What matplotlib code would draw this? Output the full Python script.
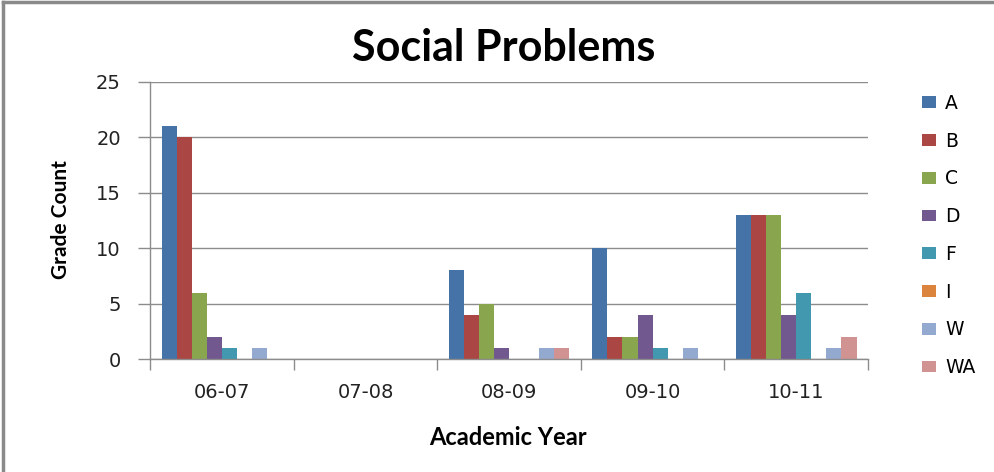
import matplotlib.pyplot as plt
from matplotlib.lines import Line2D
from matplotlib.patches import Patch
import numpy as np

years = ['06-07', '07-08', '08-09', '09-10', '10-11']
grades = ['A', 'B', 'C', 'D', 'F', 'I', 'W', 'WA']
counts = {
    'A':  [21, 0, 8, 10, 13],
    'B':  [20, 0, 4, 2, 13],
    'C':  [6, 0, 5, 2, 13],
    'D':  [2, 0, 1, 4, 4],
    'F':  [1, 0, 0, 1, 6],
    'I':  [0, 0, 0, 0, 0],
    'W':  [1, 0, 1, 1, 1],
    'WA': [0, 0, 1, 0, 2],
}
colors = ['#4572A7', '#AA4643', '#89A54E', '#71588F',
          '#4198AF', '#DB843D', '#93A9CF', '#D19392']

fig = plt.figure(figsize=(9.95, 4.72), dpi=100)
ax = fig.add_axes([0.1508, 0.2394, 0.7216, 0.5869])

x = np.arange(len(years))
bw = 0.84 / len(grades)
for i, (g, c) in enumerate(zip(grades, colors)):
    ax.bar(x + (i - (len(grades) - 1) / 2) * bw, counts[g], width=bw,
           color=c, edgecolor='none', zorder=2)

ax.set_xlim(-0.5, len(years) - 0.5)
ax.set_ylim(0, 25)
ax.set_yticks(range(0, 26, 5))
ax.yaxis.grid(True, color='#8c8c8c', linewidth=1.0, zorder=0)
ax.set_axisbelow(True)

ax.set_xticks(x)
ax.set_xticklabels(years)
ax.set_xticks(np.arange(-0.5, len(years), 1.0), minor=True)
ax.tick_params(axis='x', which='major', length=0, pad=17)
ax.tick_params(axis='x', which='minor', length=8, color='#8c8c8c', width=1)
ax.tick_params(axis='y', length=9, color='#8c8c8c', width=1, pad=12)
ax.tick_params(labelsize=14, labelcolor='#222222')

for side in ['top', 'right']:
    ax.spines[side].set_visible(False)
for side in ['left', 'bottom']:
    ax.spines[side].set_color('#8c8c8c')
    ax.spines[side].set_linewidth(1.0)
ax.spines['bottom'].set_zorder(3)

fig.text(0.506, 0.898, 'Social Problems', ha='center', va='center',
         fontsize=31, fontweight='bold', family='Lato')
fig.text(0.51, 0.074, 'Academic Year', ha='center', va='center',
         fontsize=17, fontweight='bold', family='Lato')
fig.text(0.061, 0.535, 'Grade Count', ha='center', va='center', rotation=90,
         fontsize=15, fontweight='bold', family='Lato')

handles = [Patch(facecolor=c, edgecolor='none') for c in colors]
fig.legend(handles, grades, loc='upper left', bbox_to_anchor=(0.9176, 0.821),
           frameon=False, fontsize=13.5, handlelength=0.75, handleheight=0.6,
           handletextpad=0.45, labelspacing=1.0, borderpad=0)

# outer chart border (left and top edges)
fig.add_artist(Line2D([0.0035, 0.0035], [0, 0.996], transform=fig.transFigure,
                      color='#8a8a8a', linewidth=2.5))
fig.add_artist(Line2D([0.0035, 1.0], [0.996, 0.996], transform=fig.transFigure,
                      color='#8a8a8a', linewidth=2.5))

fig.savefig('out.png', dpi=100)
